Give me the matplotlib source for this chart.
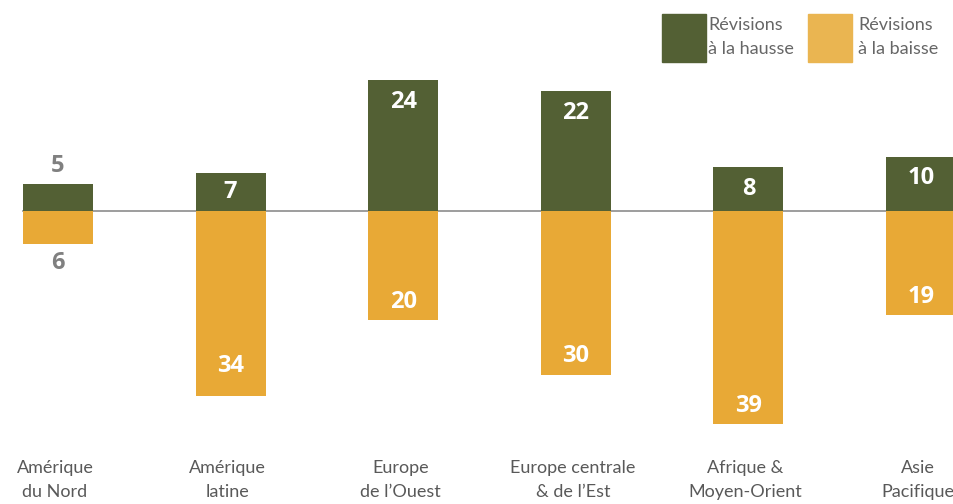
import matplotlib.pyplot as plt

# Données
regions = ['Amérique\ndu Nord', 'Amérique\nlatine', 'Europe\nde l’Ouest',
           'Europe centrale\n& de l’Est', 'Afrique &\nMoyen-Orient', 'Asie\nPacifique']
hausse = [5, 7, 24, 22, 8, 10]
baisse = [6, 34, 20, 30, 39, 19]

vert = '#536034'
orange = '#E8A936'
orange_legende = '#EAB551'
gris = '#808080'

fig = plt.figure(figsize=(9.54, 5.04), dpi=100)
ax = fig.add_axes([0, 0, 1, 1])

x = list(range(len(regions)))
px_x = 172.6  # pixels par catégorie
px_y = 5.45   # pixels par unité
ax.set_xlim(-58 / px_x, (954 - 58) / px_x)
ax.set_ylim(-(504 - 211) / px_y, 211 / px_y)
ax.axis('off')

ax.axhline(0, xmin=23 / 954, xmax=1, color='#8c8c8c', lw=1.2, zorder=1)
w = 70 / px_x
ax.bar(x, hausse, width=w, color=vert, zorder=2)
ax.bar(x, [-b for b in baisse], width=w, color=orange, zorder=2)

txt = dict(ha='center', va='center', fontsize=17, fontweight='bold', family='Open Sans')
for i in x:
    h = hausse[i]
    if h >= 7:
        ax.text(i, h - min(22, h * px_y / 2) / px_y, str(h), color='white', **txt)
    else:
        ax.text(i, h + 18 / px_y, str(h), color=gris, **txt)
    b = baisse[i]
    if b >= 7:
        dy = 30 / px_y if b == 34 else 18 / px_y
        ax.text(i, -b + dy, str(b), color='white', **txt)
    else:
        ax.text(i, -b - 19 / px_y, str(b), color=gris, **txt)

# Étiquettes des catégories
for i, r in enumerate(regions):
    ax.text(i - 3 / px_x, -(480 - 211) / px_y, r, ha='center', va='center',
            fontsize=13, color='#595959', family='Lato', linespacing=1.55)

# Légende
fig.patches.append(plt.Rectangle((662 / 954, 1 - 62 / 504), 44 / 954, 48 / 504,
                                 transform=fig.transFigure, color=vert))
fig.patches.append(plt.Rectangle((808 / 954, 1 - 62 / 504), 44 / 954, 48 / 504,
                                 transform=fig.transFigure, color=orange_legende))
fig.text(708 / 954, 1 - 37 / 504, 'Révisions\nà la hausse', ha='left', va='center',
         fontsize=13, color='#666666', family='Lato', linespacing=1.6)
fig.text(858 / 954, 1 - 37 / 504, 'Révisions\nà la baisse', ha='left', va='center',
         fontsize=13, color='#666666', family='Lato', linespacing=1.6)

fig.savefig('out.png', dpi=100)
